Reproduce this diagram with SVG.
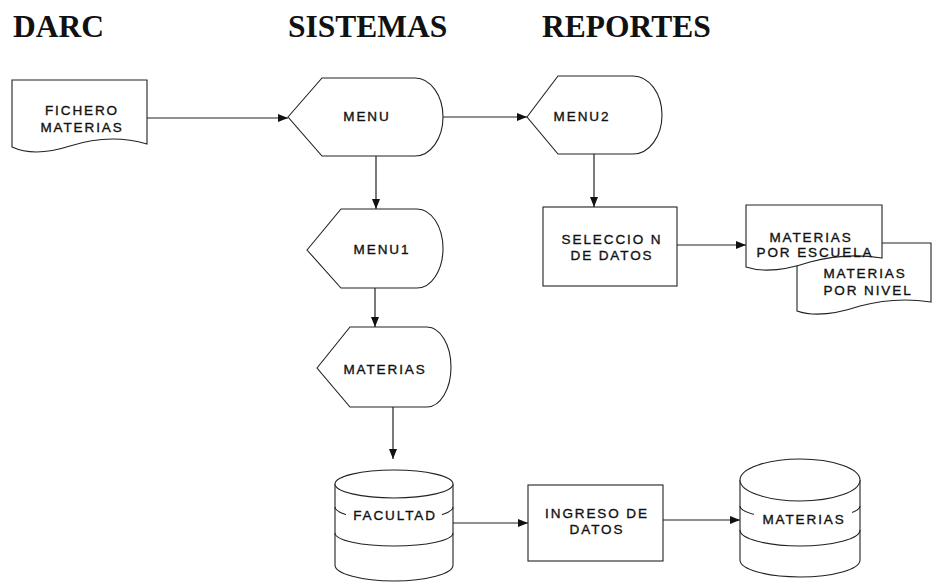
<svg xmlns="http://www.w3.org/2000/svg" width="937" height="586" viewBox="0 0 937 586">
  <defs>
    <marker id="arrow" viewBox="0 0 10 8" refX="10" refY="4" markerWidth="11" markerHeight="8" markerUnits="userSpaceOnUse" orient="auto">
      <path d="M0,0 L10,4 L0,8 Z" fill="#111"/>
    </marker>
    <style>
      .title { font-family: "Liberation Serif", "Times New Roman", serif; font-weight: bold; font-size: 31.5px; fill: #111; }
      .shape { fill: #fff; stroke: #222; stroke-width: 1.1; }
      .line { fill: none; stroke: #222; stroke-width: 1.1; }
      .lbl { font-family: "Liberation Sans", Arial, sans-serif; font-size: 13.5px; letter-spacing: 1.9px; fill: #111; stroke: #111; stroke-width: 0.35; text-anchor: middle; }
      .edge { fill: none; stroke: #222; stroke-width: 1.2; marker-end: url(#arrow); }
      .bg { fill: #fff; }
    </style>
  </defs>

  <!-- column headings -->
  <text class="title" x="13" y="37">DARC</text>
  <text class="title" x="288" y="37">SISTEMAS</text>
  <text class="title" x="542" y="37">REPORTES</text>

  <!-- connectors -->
  <g id="connectors">
    <path class="edge" d="M147,118 H288"/>
    <path class="edge" d="M443,117 H527"/>
    <path class="edge" d="M376,156 V209"/>
    <path class="edge" d="M594,154 V207"/>
    <path class="edge" d="M677,245 H746"/>
    <path class="edge" d="M375,288 V327"/>
    <path class="edge" d="M393,407 V459"/>
    <path class="edge" d="M453,523 H528"/>
    <path class="edge" d="M663,520 H740"/>
  </g>

  <!-- source document -->
  <g id="fichero-materias">
    <path class="shape" d="M12,80 H147 V144 C120,136 95,138 70,146 C45,154 25,153 12,147 Z"/>
    <text class="lbl" x="82" y="115">FICHERO</text>
    <text class="lbl" x="82" y="132">MATERIAS</text>
  </g>

  <!-- display screens -->
  <g id="menu">
    <path class="shape" d="M288,117 L322,78 H415 A28,39 0 0 1 415,156 H322 Z"/>
    <text class="lbl" x="367" y="121">MENU</text>
  </g>

  <g id="menu2">
    <path class="shape" d="M527,117 L558,76 H633 A29,39 0 0 1 633,154 H558 Z"/>
    <text class="lbl" x="582" y="120.5">MENU2</text>
  </g>

  <g id="menu1">
    <path class="shape" d="M307,250 L341,209 H417 A26,39.5 0 0 1 417,288 H341 Z"/>
    <text class="lbl" x="382" y="254">MENU1</text>
  </g>

  <g id="materias-screen">
    <path class="shape" d="M317,368 L350,327 H427 A24,40 0 0 1 427,407 H350 Z"/>
    <text class="lbl" x="385" y="373.5">MATERIAS</text>
  </g>

  <!-- processes -->
  <g id="seleccion-datos">
    <rect class="shape" x="543" y="207" width="134" height="79"/>
    <text class="lbl" x="612" y="243.5">SELECCIO N</text>
    <text class="lbl" x="612" y="259.5">DE DATOS</text>
  </g>

  <g id="ingreso-datos">
    <rect class="shape" x="528" y="485" width="135" height="76"/>
    <text class="lbl" x="597" y="517.5">INGRESO DE</text>
    <text class="lbl" x="597" y="534">DATOS</text>
  </g>

  <!-- report documents (back one first) -->
  <g id="materias-por-nivel">
    <path class="shape" d="M797,243 H931 V302 C905,298 882,300 860,306 C836,314 814,317 797,311 Z"/>
  </g>

  <g id="materias-por-escuela">
    <path class="shape" d="M746,205 H882 V258 C856,254 832,256 810,262 C786,270 764,273 746,267 Z"/>
    <text class="lbl" x="811" y="242">MATERIAS</text>
    <text class="lbl" x="815" y="256.5">POR ESCUELA</text>
  </g>

  <g id="materias-por-nivel-label">
    <text class="lbl" x="865" y="278">MATERIAS</text>
    <text class="lbl" x="868" y="295">POR NIVEL</text>
  </g>

  <!-- stored data -->
  <g id="facultad">
    <path class="shape" d="M335,484 V565 A59,16 0 0 0 453,565 V484"/>
    <ellipse class="shape" cx="394" cy="484" rx="59" ry="14"/>
    <path class="line" d="M335,507 A59,13 0 0 0 453,507"/>
    <path class="line" d="M335,533 A59,13 0 0 0 453,533"/>
    <rect class="bg" x="346" y="507" width="96" height="16"/>
    <text class="lbl" x="395" y="520">FACULTAD</text>
  </g>

  <g id="materias-db">
    <path class="shape" d="M740,480 V560 A60,17 0 0 0 860,560 V480"/>
    <ellipse class="shape" cx="800" cy="480" rx="60" ry="21"/>
    <path class="line" d="M740,506 A60,13 0 0 0 860,506"/>
    <path class="line" d="M740,530 A60,16 0 0 0 860,530"/>
    <rect class="bg" x="754" y="510" width="98" height="16"/>
    <text class="lbl" x="804" y="523.5">MATERIAS</text>
  </g>
</svg>
